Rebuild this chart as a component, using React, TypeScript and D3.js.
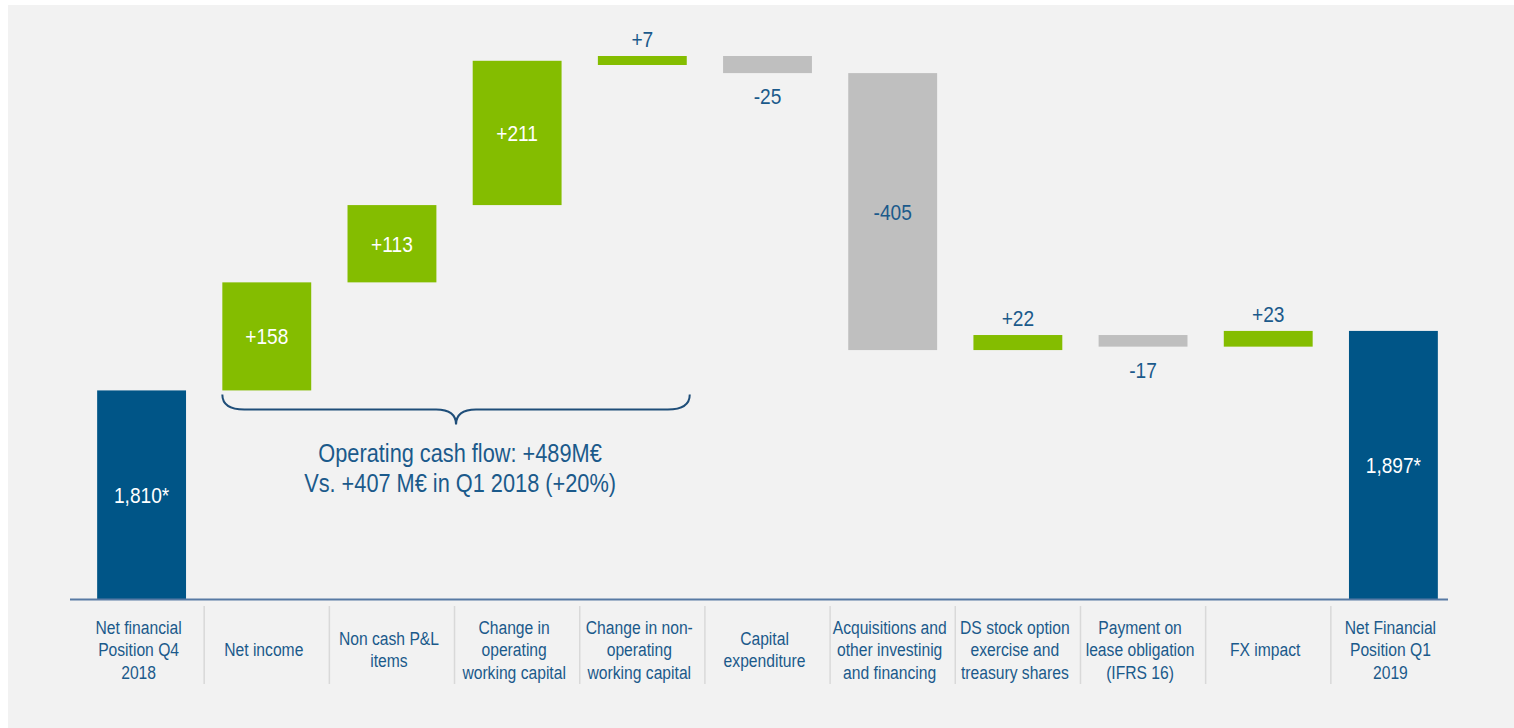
import React from "react";
import * as d3 from "d3";

const CATEGORIES: string[][] = [
  ["Net financial", "Position Q4", "2018"],
  ["Net income"],
  ["Non cash P&L", "items"],
  ["Change in", "operating", "working capital"],
  ["Change in non-", "operating", "working capital"],
  ["Capital", "expenditure"],
  ["Acquisitions and", "other investinig", "and financing"],
  ["DS stock option", "exercise and", "treasury shares"],
  ["Payment on", "lease obligation", "(IFRS 16)"],
  ["FX impact"],
  ["Net Financial", "Position Q1", "2019"],
];
const VALUES = [1810, 158, 113, 211, 7, -25, -405, 22, -17, 23, 1897];
const KINDS = ["total", "delta", "delta", "delta", "delta", "delta", "delta", "delta", "delta", "delta", "total"];
const VALUE_LABELS = ["1,810*", "+158", "+113", "+211", "+7", "-25", "-405", "+22", "-17", "+23", "1,897*"];
const AXIS_FLOOR = 1505; // broken value axis: baseline value
const AXIS_TOP = 2299;
const NOTE_LINES = ["Operating cash flow: +489M\u20AC", "Vs. +407 M\u20AC in Q1 2018 (+20%)"];
const BRACE_FROM = 1;
const BRACE_TO = 4;

const W = 1514;
const H = 728;
const BLUE = "#005587";
const GREEN = "#84bd00";
const GREY = "#bfbfbf";
const TXT = "#1b5a8b";
const FONT = "'Liberation Sans', Arial, sans-serif";
const SX = 0.87;

function T({ x, y, size, fill, children }: { x: number; y: number; size: number; fill: string; children: React.ReactNode }) {
  return (
    <text
      transform={`translate(${x},${y}) scale(${SX},1)`}
      textAnchor="middle"
      fontFamily={FONT}
      fontSize={size}
      fill={fill}
    >
      {children}
    </text>
  );
}

export default function App() {
  const x = d3.scaleBand<number>().domain(d3.range(CATEGORIES.length)).range([79, 1456]).paddingInner(0).paddingOuter(0);
  const y = d3.scaleLinear().domain([AXIS_FLOOR, AXIS_TOP]).range([599, 56]);
  const bw = x.bandwidth() * 0.71;

  let run = 0;
  const bars = VALUES.map((v, i) => {
    let start: number, end: number;
    if (KINDS[i] === "total") {
      start = AXIS_FLOOR;
      end = v;
      run = v;
    } else {
      start = run;
      end = run + v;
      run = end;
    }
    const yTop = y(Math.max(start, end));
    const yBot = y(Math.min(start, end));
    const h = Math.max(yBot - yTop, 9);
    const color = KINDS[i] === "total" ? BLUE : v >= 0 ? GREEN : GREY;
    const cx = (x(i) as number) + x.bandwidth() / 2;
    return { i, v, yTop, h, color, cx };
  });

  const braceL = bars[BRACE_FROM].cx - bw / 2;
  const braceR = bars[BRACE_TO].cx + bw / 2 + 3;
  const braceTop = bars[BRACE_FROM].yTop + bars[BRACE_FROM].h + 4;
  const braceMid = (braceL + braceR) / 2;
  const bY = braceTop + 15;
  const bracePath = [
    `M${braceL},${braceTop}`,
    `Q${braceL},${bY} ${braceL + 22},${bY}`,
    `H${braceMid - 20}`,
    `Q${braceMid},${bY} ${braceMid},${bY + 15}`,
    `Q${braceMid},${bY} ${braceMid + 20},${bY}`,
    `H${braceR - 22}`,
    `Q${braceR},${bY} ${braceR},${braceTop}`,
  ].join(" ");

  const r0 = x.range()[0];
  const r1 = x.range()[1];

  return (
    <svg
      width={W}
      height={H}
      style={{ position: "absolute", left: 0, top: 0, display: "block" }}
    >
      <rect x={8} y={5} width={W - 8} height={H - 5} fill="#f2f2f2" />

      {/* separators */}
      {CATEGORIES.slice(1).map((_, i) => {
        const sx = x(i + 1) as number;
        return <line key={"s" + i} x1={sx} x2={sx} y1={606} y2={684} stroke="#d9d9d9" strokeWidth={1.5} />;
      })}

      {/* bars */}
      {bars.map((b) => (
        <rect key={"b" + b.i} x={b.cx - bw / 2} y={b.yTop} width={bw} height={b.h} fill={b.color} />
      ))}

      {/* axis */}
      <line x1={r0 - 9} x2={r1 - 8} y1={599.5} y2={599.5} stroke="#587aa4" strokeWidth={2} />

      {/* value labels */}
      {bars.map((b) => {
        const inside = b.h > 40;
        if (inside) {
          const fill = b.color === GREY ? TXT : "#ffffff";
          return (
            <T key={"v" + b.i} x={b.cx} y={b.yTop + b.h / 2 + 8} size={22} fill={fill}>
              {VALUE_LABELS[b.i]}
            </T>
          );
        }
        const yy = b.v >= 0 ? b.yTop - 9 : b.yTop + b.h + 31;
        return (
          <T key={"v" + b.i} x={b.cx} y={yy} size={22} fill={TXT}>
            {VALUE_LABELS[b.i]}
          </T>
        );
      })}

      {/* category labels */}
      {CATEGORIES.map((lines, i) => {
        const cx = (x(i) as number) + x.bandwidth() / 2 - 3;
        return lines.map((ln, j) => (
          <T key={"c" + i + "-" + j} x={cx} y={656 + (j - (lines.length - 1) / 2) * 22.5} size={18} fill={TXT}>
            {ln}
          </T>
        ));
      })}

      {/* brace */}
      <path d={bracePath} fill="none" stroke="#1f4e79" strokeWidth={2} />

      {NOTE_LINES.map((ln, j) => (
        <T key={"n" + j} x={braceMid + 4} y={462 + j * 30} size={25} fill={TXT}>
          {ln}
        </T>
      ))}
    </svg>
  );
}
